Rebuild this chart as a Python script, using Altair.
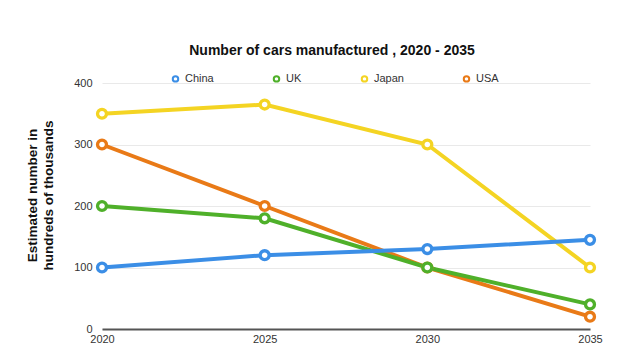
import altair as alt
import pandas as pd

years = [2020, 2025, 2030, 2035]
series = ["China", "UK", "Japan", "USA"]
china = [100, 120, 130, 145]
uk = [200, 180, 100, 40]
japan = [350, 365, 300, 100]
usa = [300, 200, 100, 20]
colors = ["#3b8ee6", "#4fb02a", "#f4d423", "#e97a17"]
draw_order = ["Japan", "USA", "UK", "China"]

vals = {"China": china, "UK": uk, "Japan": japan, "USA": usa}
rows = []
for s in draw_order:
    for y, v in zip(years, vals[s]):
        rows.append({"Year": y, "Country": s, "Value": v})
df = pd.DataFrame(rows)

FONT = "Liberation Sans"

stroke = alt.Stroke(
    "Country:N",
    scale=alt.Scale(domain=series, range=colors),
    sort=series,
    legend=alt.Legend(
        title=None,
        orient="none",
        direction="horizontal",
        legendX=68,
        legendY=-10,
        symbolType="circle",
        symbolFillColor="white",
        symbolStrokeWidth=2,
        symbolSize=30,
        columnPadding=55,
        labelFontSize=11,
        labelColor="#333",
        labelFont=FONT,
    ),
)

x = alt.X(
    "Year:Q",
    scale=alt.Scale(domain=[2020, 2035], nice=False, zero=False),
    axis=alt.Axis(
        values=years, format="d", title=None, grid=False, ticks=False,
        labelFontSize=11, labelColor="#333", labelPadding=4, labelFont=FONT,
        labelFlush=False, domainColor="#555", domainWidth=2,
    ),
)
y = alt.Y(
    "Value:Q",
    scale=alt.Scale(domain=[0, 400], nice=False),
    axis=alt.Axis(
        values=[0, 100, 200, 300, 400], title=["Estimated number in", "hundreds of thousands"],
        grid=True, gridColor="#e9e9e9", gridWidth=1, domain=False, ticks=False,
        labelFontSize=11, labelColor="#333", labelPadding=10, labelFont=FONT,
        labelFlush=False,
        titleFontSize=13.5, titleFont=FONT, titleFontWeight="bold", titleColor="#111",
        titleX=-70, titleY=112, titleAngle=-90, titleAlign="center", titleBaseline="middle",
        titleLineHeight=16,
    ),
)

base = alt.Chart(df)
lines = base.mark_line(strokeWidth=4).encode(x=x, y=y, stroke=stroke, detail="Country:N")
points = base.mark_point(shape="circle", filled=True, fill="white", size=80, strokeWidth=3.3, opacity=1).encode(
    x=x, y=y, stroke=stroke
)

chart = (
    alt.layer(lines, points)
    .properties(
        width=488,
        height=246,
        background="white",
        autosize=alt.AutoSizeParams(type="none"),
        padding={"left": 94, "top": 75, "right": 42, "bottom": 27},
        title=alt.TitleParams(
            "Number of cars manufactured , 2020 - 2035",
            fontSize=14, font=FONT, fontWeight="bold", color="#111",
            anchor="middle", offset=15, dx=-14, frame="group",
        ),
    )
    .configure_view(stroke="transparent", strokeWidth=0)
    .configure_axisX(grid=False)
)

chart.save("out.html", embed_options={"renderer": "svg", "actions": False})
